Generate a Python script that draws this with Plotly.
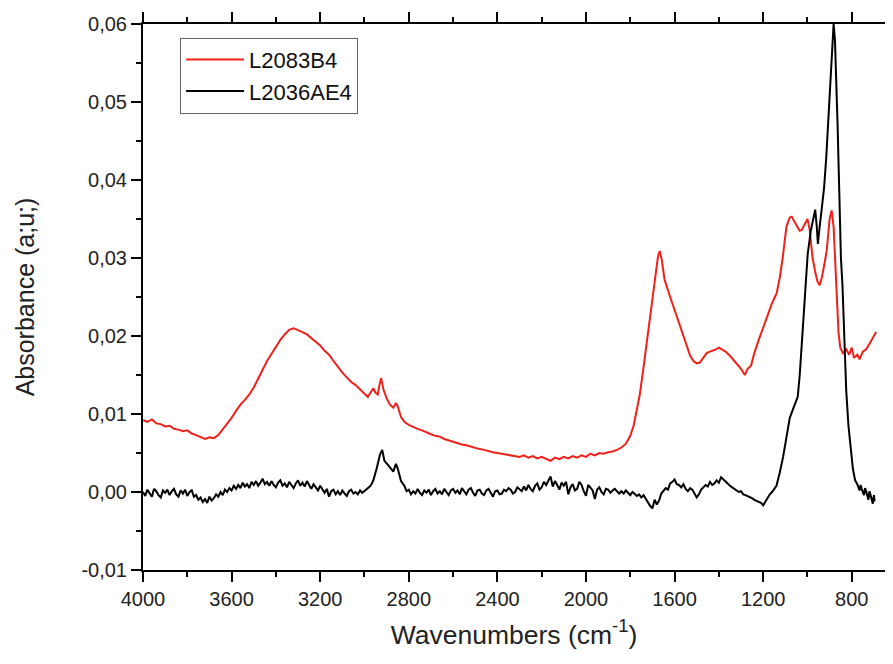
import plotly.graph_objects as go

# ---------------- data ----------------
series_names = ["L2083B4", "L2036AE4"]

wn_red = [4000, 3980, 3960, 3940, 3920, 3900, 3880, 3860, 3840, 3820, 3800, 3780, 3760, 3740,
          3720, 3700, 3680, 3660, 3640, 3620, 3600, 3580, 3560, 3540, 3520, 3500, 3480, 3460,
          3440, 3420, 3400, 3380, 3360, 3340, 3320, 3300, 3280, 3260, 3240, 3220, 3200, 3180,
          3160, 3140, 3120, 3100, 3080, 3060, 3040, 3020, 3000, 2985, 2970, 2960, 2950, 2940,
          2932, 2925, 2915, 2900, 2885, 2870, 2858, 2850, 2835, 2820, 2800, 2780, 2760, 2740,
          2720, 2700, 2680, 2660, 2640, 2620, 2600, 2580, 2560, 2540, 2520, 2500, 2480, 2460,
          2440, 2420, 2400, 2380, 2360, 2340, 2320, 2300, 2280, 2260, 2240, 2220, 2200, 2180,
          2160, 2140, 2120, 2100, 2080, 2060, 2040, 2020, 2000, 1980, 1960, 1940, 1920, 1900,
          1880, 1860, 1840, 1820, 1800, 1785, 1770, 1757, 1740, 1726, 1712, 1699, 1685, 1675,
          1667, 1658, 1645, 1635, 1620, 1608, 1590, 1575, 1563, 1545, 1530, 1515, 1500, 1486,
          1470, 1455, 1441, 1420, 1400, 1385, 1370, 1351, 1335, 1319, 1300, 1283, 1270, 1255,
          1240, 1220, 1202, 1180, 1160, 1139, 1125, 1112, 1095, 1080, 1071, 1060, 1045, 1035,
          1026, 1013, 1000, 990, 977, 965, 955, 945, 935, 925, 913, 900, 891, 882, 875, 868,
          860, 852, 840, 825, 812, 800, 790, 775, 765, 750, 735, 720, 705, 690]
abs_red = [0.0092, 0.0090, 0.0093, 0.0088, 0.0087, 0.0084, 0.0085, 0.0081, 0.0080, 0.0078, 0.0079,
           0.0075, 0.0073, 0.0071, 0.0068, 0.0070, 0.0069, 0.0073, 0.0080, 0.0088, 0.0095, 0.0104,
           0.0112, 0.0118, 0.0125, 0.0134, 0.0145, 0.0158, 0.0168, 0.0177, 0.0186, 0.0195, 0.0202,
           0.0208, 0.0210, 0.0208, 0.0205, 0.0202, 0.0197, 0.0193, 0.0188, 0.0181, 0.0176, 0.0168,
           0.0160, 0.0153, 0.0147, 0.0141, 0.0137, 0.0131, 0.0126, 0.0122, 0.0128, 0.0133, 0.0127,
           0.0125, 0.0138, 0.0146, 0.0132, 0.0120, 0.0112, 0.0108, 0.0114, 0.0110, 0.0096, 0.0090,
           0.0086, 0.0083, 0.0081, 0.0079, 0.0076, 0.0074, 0.0072, 0.0071, 0.0068, 0.0066, 0.0065,
           0.0063, 0.0061, 0.0060, 0.0058, 0.0057, 0.0055, 0.0054, 0.0052, 0.0051, 0.0050, 0.0049,
           0.0048, 0.0047, 0.0046, 0.0045, 0.0047, 0.0044, 0.0046, 0.0043, 0.0045, 0.0042, 0.0040,
           0.0044, 0.0042, 0.0045, 0.0043, 0.0046, 0.0044, 0.0047, 0.0045, 0.0049, 0.0047, 0.0050,
           0.0049, 0.0051, 0.0052, 0.0054, 0.0057, 0.0062, 0.0072, 0.0085, 0.0105, 0.0125, 0.0160,
           0.0190, 0.0222, 0.0252, 0.0285, 0.0302, 0.0309, 0.0298, 0.0272, 0.0262, 0.0250, 0.0240,
           0.0225, 0.0210, 0.0200, 0.0185, 0.0175, 0.0168, 0.0165, 0.0166, 0.0172, 0.0178, 0.0180,
           0.0182, 0.0185, 0.0183, 0.0180, 0.0175, 0.0170, 0.0164, 0.0158, 0.0150, 0.0158, 0.0162,
           0.0178, 0.0195, 0.0210, 0.0228, 0.0242, 0.0255, 0.0275, 0.0300, 0.0340, 0.0352, 0.0353,
           0.0347, 0.0340, 0.0335, 0.0336, 0.0343, 0.0350, 0.0336, 0.0300, 0.0282, 0.0270, 0.0265,
           0.0275, 0.0290, 0.0310, 0.0350, 0.0361, 0.0340, 0.0290, 0.0245, 0.0205, 0.0185, 0.0178,
           0.0183, 0.0176, 0.0185, 0.0172, 0.0176, 0.0170, 0.0180, 0.0183, 0.0190, 0.0198, 0.0205]

# black spectrum as (wavenumber, absorbance) pairs
black_points = [
    (4000, 0.0000), (3990, -0.0005), (3980, 0.0003), (3970, -0.0002), (3960, -0.0006),
    (3950, 0.0004), (3940, 0.0001), (3930, -0.0004), (3920, -0.0007), (3910, 0.0002),
    (3900, -0.0001), (3890, 0.0003), (3880, -0.0004), (3870, 0.0001), (3860, 0.0004),
    (3850, -0.0003), (3840, -0.0006), (3830, 0.0002), (3820, -0.0002), (3810, 0.0003),
    (3800, -0.0005), (3790, 0.0000), (3780, 0.0002), (3770, -0.0006), (3760, -0.0004),
    (3750, -0.0010), (3740, -0.0007), (3730, -0.0013), (3720, -0.0009), (3710, -0.0014),
    (3700, -0.0006), (3690, -0.0011), (3680, -0.0008), (3670, -0.0003), (3660, -0.0006),
    (3650, 0.0000), (3640, -0.0004), (3630, 0.0003), (3620, 0.0000), (3610, 0.0005),
    (3600, 0.0002), (3590, 0.0008), (3580, 0.0004), (3570, 0.0009), (3560, 0.0005),
    (3550, 0.0012), (3540, 0.0007), (3530, 0.0010), (3520, 0.0005), (3510, 0.0013),
    (3500, 0.0009), (3490, 0.0014), (3480, 0.0008), (3470, 0.0012), (3460, 0.0017),
    (3450, 0.0010), (3440, 0.0013), (3430, 0.0008), (3420, 0.0014), (3410, 0.0009),
    (3400, 0.0006), (3390, 0.0012), (3380, 0.0015), (3370, 0.0008), (3360, 0.0011),
    (3350, 0.0006), (3340, 0.0013), (3330, 0.0009), (3320, 0.0005), (3310, 0.0011),
    (3300, 0.0015), (3290, 0.0008), (3280, 0.0012), (3270, 0.0007), (3260, 0.0014),
    (3250, 0.0009), (3240, 0.0004), (3230, 0.0010), (3220, 0.0006), (3210, 0.0002),
    (3200, 0.0008), (3190, 0.0003), (3180, -0.0001), (3170, 0.0004), (3160, -0.0006),
    (3150, 0.0001), (3140, 0.0003), (3130, -0.0003), (3120, 0.0001), (3110, -0.0004),
    (3100, 0.0002), (3090, -0.0002), (3080, -0.0005), (3070, 0.0001), (3060, 0.0003),
    (3050, -0.0002), (3040, 0.0000), (3030, -0.0003), (3020, 0.0002), (3010, -0.0001),
    (3000, 0.0001), (2990, 0.0003), (2980, 0.0006), (2970, 0.0009), (2960, 0.0015),
    (2945, 0.0030), (2930, 0.0048), (2920, 0.0054), (2910, 0.0040), (2895, 0.0035),
    (2880, 0.0030), (2870, 0.0026), (2858, 0.0036), (2850, 0.0030), (2835, 0.0014),
    (2820, 0.0008), (2810, 0.0001), (2800, 0.0003), (2790, -0.0003), (2780, 0.0001),
    (2770, -0.0002), (2760, 0.0004), (2750, -0.0001), (2740, -0.0004), (2730, 0.0002),
    (2720, -0.0001), (2710, 0.0003), (2700, -0.0004), (2690, 0.0001), (2680, 0.0004),
    (2670, -0.0002), (2660, 0.0001), (2650, -0.0003), (2640, 0.0004), (2630, 0.0000),
    (2620, -0.0004), (2610, 0.0002), (2600, 0.0004), (2590, -0.0001), (2580, 0.0002),
    (2570, -0.0003), (2560, 0.0005), (2550, 0.0001), (2540, -0.0003), (2530, 0.0003),
    (2520, 0.0005), (2510, -0.0001), (2500, -0.0005), (2490, 0.0002), (2480, 0.0003),
    (2470, -0.0002), (2460, -0.0004), (2450, 0.0002), (2440, 0.0004), (2430, -0.0001),
    (2420, -0.0006), (2410, 0.0001), (2400, 0.0002), (2390, -0.0003), (2380, -0.0002),
    (2370, 0.0003), (2360, 0.0001), (2350, 0.0005), (2340, 0.0003), (2330, -0.0002),
    (2320, 0.0000), (2310, 0.0006), (2300, 0.0004), (2290, 0.0001), (2280, 0.0007),
    (2270, 0.0002), (2260, 0.0009), (2250, 0.0004), (2240, 0.0001), (2230, 0.0008),
    (2220, 0.0011), (2210, 0.0003), (2200, 0.0006), (2190, 0.0013), (2180, 0.0009),
    (2170, 0.0015), (2160, 0.0020), (2150, 0.0007), (2140, 0.0014), (2130, 0.0009),
    (2120, 0.0003), (2110, 0.0012), (2100, 0.0008), (2090, 0.0013), (2080, -0.0003),
    (2070, 0.0006), (2060, 0.0010), (2050, 0.0002), (2040, 0.0004), (2030, 0.0013),
    (2020, 0.0009), (2010, 0.0001), (2000, -0.0005), (1990, 0.0009), (1980, 0.0006),
    (1970, 0.0002), (1960, -0.0009), (1950, 0.0003), (1940, 0.0006), (1930, 0.0000),
    (1920, -0.0003), (1910, 0.0004), (1900, 0.0003), (1890, -0.0001), (1880, 0.0002),
    (1870, 0.0004), (1860, 0.0001), (1850, -0.0002), (1840, 0.0001), (1830, -0.0002),
    (1820, 0.0002), (1810, -0.0001), (1800, -0.0004), (1790, 0.0000), (1780, -0.0002),
    (1770, -0.0005), (1760, -0.0003), (1750, -0.0007), (1740, -0.0004), (1730, -0.0009),
    (1720, -0.0013), (1710, -0.0018), (1700, -0.0021), (1690, -0.0010), (1680, -0.0016),
    (1670, -0.0011), (1660, -0.0002), (1650, 0.0001), (1640, 0.0005), (1630, 0.0003),
    (1620, 0.0011), (1610, 0.0013), (1600, 0.0016), (1590, 0.0010), (1580, 0.0009),
    (1570, 0.0006), (1560, 0.0010), (1550, 0.0004), (1540, 0.0001), (1530, 0.0005),
    (1520, 0.0003), (1510, -0.0002), (1500, -0.0007), (1490, -0.0003), (1480, 0.0003),
    (1470, 0.0006), (1460, 0.0009), (1450, 0.0007), (1440, 0.0013), (1430, 0.0009),
    (1420, 0.0011), (1410, 0.0015), (1400, 0.0012), (1390, 0.0019), (1380, 0.0016),
    (1370, 0.0013), (1360, 0.0010), (1350, 0.0008), (1340, 0.0006), (1330, 0.0004),
    (1320, 0.0003), (1310, 0.0000), (1300, 0.0001), (1290, -0.0003), (1280, -0.0004),
    (1270, -0.0005), (1260, -0.0007), (1250, -0.0008), (1240, -0.0010), (1230, -0.0011),
    (1220, -0.0013), (1210, -0.0014), (1200, -0.0017), (1190, -0.0012), (1180, -0.0007),
    (1170, -0.0003), (1160, 0.0000), (1150, 0.0004), (1140, 0.0008), (1125, 0.0025),
    (1110, 0.0045), (1095, 0.0070), (1080, 0.0095), (1067, 0.0105), (1055, 0.0115),
    (1044, 0.0122), (1035, 0.0150), (1022, 0.0208), (1010, 0.0260), (999, 0.0305),
    (985, 0.0335), (972, 0.0355), (965, 0.0362), (958, 0.0340), (953, 0.0318),
    (945, 0.0340), (935, 0.0368), (925, 0.0390), (915, 0.0430), (905, 0.0480),
    (895, 0.0535), (888, 0.0575), (882, 0.0600), (876, 0.0580), (870, 0.0530),
    (864, 0.0470), (856, 0.0380), (849, 0.0300), (842, 0.0265), (835, 0.0210),
    (825, 0.0130), (815, 0.0085), (805, 0.0055), (795, 0.0030), (785, 0.0015),
    (775, 0.0010), (765, 0.0002), (760, 0.0009), (755, 0.0004), (745, -0.0004),
    (740, 0.0005), (735, 0.0001), (725, -0.0010), (720, 0.0001), (715, -0.0004),
    (705, -0.0015), (700, -0.0004), (697, -0.0012),
]
wn_black = [p[0] for p in black_points]
abs_black = [p[1] for p in black_points]

x_tickvals = [4000, 3600, 3200, 2800, 2400, 2000, 1600, 1200, 800]
y_tickvals = [-0.01, 0.0, 0.01, 0.02, 0.03, 0.04, 0.05, 0.06]
y_ticktext = ["-0,01", "0,00", "0,01", "0,02", "0,03", "0,04", "0,05", "0,06"]

FONT = "Liberation Sans, Arial, sans-serif"

fig = go.Figure()
fig.add_trace(go.Scatter(x=wn_red, y=abs_red, mode="lines", name=series_names[0],
                         line=dict(color="#f0201a", width=2)))
fig.add_trace(go.Scatter(x=wn_black, y=abs_black, mode="lines", name=series_names[1],
                         line=dict(color="#000000", width=2)))

axis_common = dict(
    showgrid=False, zeroline=False, showline=True, linecolor="black", linewidth=2,
    ticks="outside", ticklen=10, tickwidth=1.5, tickcolor="black", automargin=False,
    tickfont=dict(family=FONT, size=20, color="#222222"),
)

fig.update_xaxes(
    **axis_common,
    range=[4000, 650], mirror="ticks",
    tickvals=x_tickvals, ticktext=[str(v) for v in x_tickvals],
    minor=dict(ticks="outside", ticklen=5, tickwidth=1.5, tickcolor="black", dtick=200, tick0=0),
    title=dict(text="Wavenumbers (cm<sup>-1</sup>)", font=dict(family=FONT, size=26.5, color="#222222"),
               standoff=16),
)
fig.update_yaxes(
    **axis_common,
    range=[-0.01, 0.06], mirror=True,
    tickvals=y_tickvals, ticktext=y_ticktext,
    minor=dict(ticks="outside", ticklen=5, tickwidth=1.5, tickcolor="black", dtick=0.005, tick0=0),
    title=dict(text="Absorbance (a;u;)", font=dict(family=FONT, size=25, color="#222222"),
               standoff=40),
)

fig.update_layout(
    width=893, height=664,
    margin=dict(l=135, r=16, t=16, b=102),
    paper_bgcolor="white", plot_bgcolor="white",
    showlegend=True,
    legend=dict(x=0.05, y=0.975, xanchor="left", yanchor="top",
                bgcolor="white", bordercolor="#666666", borderwidth=1,
                font=dict(family=FONT, size=22, color="#111111"),
                itemwidth=58, tracegroupgap=0),
)

fig.write_html("out.html")
